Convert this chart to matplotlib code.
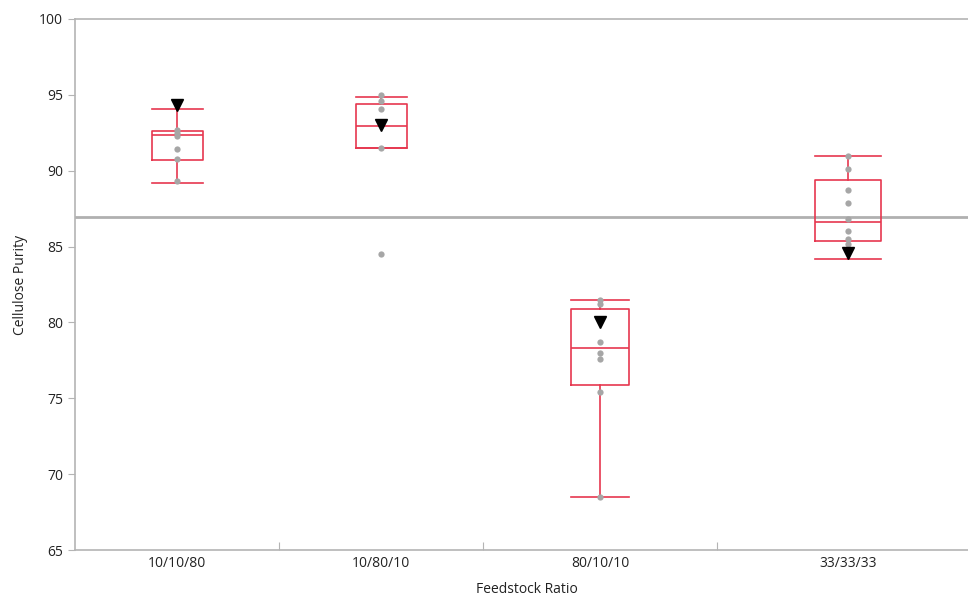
import matplotlib.pyplot as plt

# Feedstock groups and sample counts (x axis widths are proportional to n)
ratios = ["10/10/80", "10/80/10", "80/10/10", "33/33/33"]
counts = [7, 7, 8, 9]

# Observed purity values per group (grey dots)
purity = [
    [92.7, 92.5, 92.3, 91.4, 90.8, 89.3],
    [95.0, 94.6, 94.1, 91.5, 84.5],
    [81.5, 81.2, 78.7, 78.0, 77.6, 75.4, 68.5],
    [91.0, 90.1, 88.7, 87.9, 86.8, 86.0, 85.5, 85.2],
]
# Flagged run in each group (black triangles)
flagged = [94.3, 93.0, 80.0, 84.6]

# Box summaries: lower whisker, Q1, median, Q3, upper whisker
whislo = [89.2, 91.5, 68.5, 84.2]
q1 = [90.7, 91.5, 75.9, 85.4]
med = [92.35, 92.95, 78.3, 86.65]
q3 = [92.65, 94.4, 80.9, 89.4]
whishi = [94.1, 94.85, 81.45, 91.0]

grand_mean = 86.95

RED = "#e6374f"
GREY = "#a6a6a6"
AXIS = "#b4b4b4"

plt.rcParams["font.family"] = ["Open Sans", "DejaVu Sans"]

fig = plt.figure(figsize=(9.68, 5.96), dpi=100)
ax = fig.add_axes([75 / 968, 46 / 596, 904 / 968, 531 / 596])

edges = [0]
for n in counts:
    edges.append(edges[-1] + n)
centers = [(edges[i] + edges[i + 1]) / 2 for i in range(len(counts))]

stats = []
for i in range(len(ratios)):
    stats.append({"whislo": whislo[i], "q1": q1[i], "med": med[i],
                  "q3": q3[i], "whishi": whishi[i], "fliers": []})

line = {"color": RED, "linewidth": 1.2}
ax.bxp(stats, positions=centers, widths=[0.25 * n for n in counts],
       boxprops=line, medianprops=line, whiskerprops=line, capprops=line,
       capwidths=[0.25 * n for n in counts], showfliers=False,
       manage_ticks=False, zorder=3)

ax.axhline(grand_mean, color="#b0b0b0", linewidth=2, zorder=1)

for x, vals in zip(centers, purity):
    ax.plot([x] * len(vals), vals, "o", color=GREY, markersize=4.5,
            markeredgewidth=0, zorder=4)
ax.plot(centers, flagged, "v", color="black", markersize=8, zorder=5)

ax.set_xlim(edges[0], edges[-1])
ax.set_ylim(65, 100)
ax.set_yticks(range(65, 101, 5))
ax.set_xticks(edges[1:-1])
ax.set_xticklabels([])
ax.set_xticks(centers, minor=True)
ax.set_xticklabels(ratios, minor=True)
ax.tick_params(axis="x", which="major", direction="in", length=6,
               color=AXIS)
ax.tick_params(axis="x", which="minor", length=0, labelsize=10,
               labelcolor="#222222", pad=4)
ax.tick_params(axis="y", direction="out", length=5, color=AXIS,
               labelsize=10, labelcolor="#222222")

for side in ["left", "bottom", "top", "right"]:
    ax.spines[side].set_color(AXIS)
    ax.spines[side].set_linewidth(1.2)

ax.set_xlabel("Feedstock Ratio", fontsize=10, color="#222222", labelpad=8)
ax.set_ylabel("Cellulose Purity", fontsize=10, color="#222222", labelpad=8)

fig.savefig("out.png", dpi=100)
